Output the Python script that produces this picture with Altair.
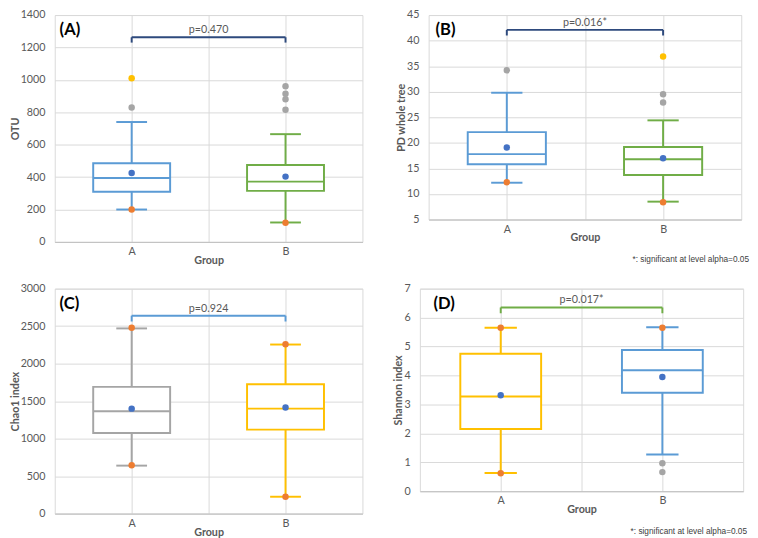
import altair as alt
import pandas as pd

groups = ["A", "B"]
group_pos = [1, 3]

# ---- Panel (A) OTU ----
otu_low = [200, 120]
otu_q1 = [310, 315]
otu_med = [395, 372]
otu_q3 = [485, 475]
otu_high = [740, 665]
otu_pt_group = ["A", "A", "A", "A", "B", "B", "B", "B", "B", "B"]
otu_pt_value = [425, 200, 830, 1010, 403, 118, 815, 880, 915, 960]
otu_pt_kind = ["mean", "min", "outlier", "max", "mean", "min", "outlier", "outlier", "outlier", "outlier"]

# ---- Panel (B) PD whole tree ----
pd_low = [12.2, 8.5]
pd_q1 = [15.8, 13.7]
pd_med = [17.8, 16.8]
pd_q3 = [22.1, 19.2]
pd_high = [29.8, 24.4]
pd_pt_group = ["A", "A", "A", "B", "B", "B", "B", "B"]
pd_pt_value = [19.1, 12.3, 34.2, 17.0, 8.4, 27.9, 29.5, 36.9]
pd_pt_kind = ["mean", "min", "outlier", "mean", "min", "outlier", "outlier", "max"]

# ---- Panel (C) Chao1 ----
chao_low = [640, 225]
chao_q1 = [1075, 1120]
chao_med = [1365, 1400]
chao_q3 = [1690, 1725]
chao_high = [2470, 2255]
chao_pt_group = ["A", "A", "A", "B", "B", "B"]
chao_pt_value = [1400, 645, 2480, 1415, 225, 2260]
chao_pt_kind = ["mean", "min", "min", "mean", "min", "min"]

# ---- Panel (D) Shannon ----
sh_low = [0.63, 1.27]
sh_q1 = [2.15, 3.40]
sh_med = [3.27, 4.18]
sh_q3 = [4.75, 4.88]
sh_high = [5.65, 5.67]
sh_pt_group = ["A", "A", "A", "B", "B", "B", "B"]
sh_pt_value = [3.32, 0.62, 5.65, 3.95, 5.65, 0.97, 0.66]
sh_pt_kind = ["mean", "min", "min", "mean", "min", "outlier", "outlier"]

kind_colors = {"mean": "#4472C4", "min": "#ED7D31", "max": "#FFC000", "outlier": "#A5A5A5"}

FONT = "Lato"
LABEL_COLOR = "#595959"
GRID = "#D9D9D9"


def make_panel(letter, ytitle, ydomain, yvalues, low, q1, med, q3, high,
               pgroup, pvalue, pkind, box_colors, bracket_y, bracket_end, label_y,
               ptext, bracket_color, w, h, letter_dx, footnote_dx=None):
    pos = dict(zip(groups, group_pos))
    box_df = pd.DataFrame({"group": groups, "x": group_pos, "low": low, "q1": q1,
                           "med": med, "q3": q3, "high": high, "color": box_colors})
    pt_df = pd.DataFrame({"group": pgroup, "value": pvalue, "kind": pkind})
    pt_df["x"] = pt_df["group"].map(pos)
    pt_df["color"] = pt_df["kind"].map(kind_colors)

    label_expr = " : ".join(
        [f"datum.value == {p} ? '{g}'" for g, p in zip(groups, group_pos)]) + " : ''"
    xaxis = alt.Axis(values=[1, 2, 3], labelExpr=label_expr, grid=True, ticks=False,
                     domainColor="#BFBFBF", labelPadding=4, titlePadding=-2)
    yaxis = alt.Axis(values=yvalues, format="d", grid=True, ticks=False, domain=False,
                     labelPadding=10, titlePadding=0)
    xs = alt.Scale(domain=[0, 4], nice=False, zero=False)
    ys = alt.Scale(domain=ydomain, nice=False, zero=False)

    def X(f):
        return alt.X(f, type="quantitative", scale=xs, axis=xaxis, title="Group")

    def Y(f):
        return alt.Y(f, type="quantitative", scale=ys, axis=yaxis, title=ytitle)

    box_base = alt.Chart(box_df).transform_calculate(
        xl="datum.x - 0.5", xh="datum.x + 0.5", cl="datum.x - 0.2", ch="datum.x + 0.2")

    boxes = box_base.mark_rect(fill="white", strokeWidth=2).encode(
        x=X("xl"), x2="xh", y=Y("q1"), y2="q3",
        stroke=alt.Stroke("color:N", scale=None))
    medians = box_base.mark_rule(strokeWidth=2).encode(
        x=X("xl"), x2="xh", y=Y("med"), color=alt.Color("color:N", scale=None))
    wl = box_base.mark_rule(strokeWidth=2).encode(
        x=X("x"), y=Y("low"), y2="q1", color=alt.Color("color:N", scale=None))
    wh = box_base.mark_rule(strokeWidth=2).encode(
        x=X("x"), y=Y("q3"), y2="high", color=alt.Color("color:N", scale=None))
    cl = box_base.mark_rule(strokeWidth=2).encode(
        x=X("cl"), x2="ch", y=Y("low"), color=alt.Color("color:N", scale=None))
    chh = box_base.mark_rule(strokeWidth=2).encode(
        x=X("cl"), x2="ch", y=Y("high"), color=alt.Color("color:N", scale=None))

    points = alt.Chart(pt_df).mark_circle(size=44, opacity=1).encode(
        x=X("x"), y=Y("value"), color=alt.Color("color:N", scale=None))

    br_df = pd.DataFrame({"x1": [group_pos[0]], "x2": [group_pos[1]], "y": [bracket_y],
                          "yend": [bracket_end], "ly": [label_y], "t": [ptext]})
    br_h = alt.Chart(br_df).mark_rule(strokeWidth=2, color=bracket_color).encode(
        x=X("x1"), x2="x2", y=Y("y"))
    br_l = alt.Chart(br_df).mark_rule(strokeWidth=2, color=bracket_color).encode(
        x=X("x1"), y=Y("y"), y2="yend")
    br_r = alt.Chart(br_df).mark_rule(strokeWidth=2, color=bracket_color).encode(
        x=X("x2"), y=Y("y"), y2="yend")
    br_t = alt.Chart(br_df).transform_calculate(xm="(datum.x1 + datum.x2) / 2").mark_text(
        font=FONT, fontSize=11, color=LABEL_COLOR, baseline="middle").encode(
        x=X("xm"), y=Y("ly"), text="t:N")

    let_df = pd.DataFrame({"t": [letter]})
    let_t = alt.Chart(let_df).mark_text(
        font=FONT, fontSize=17, fontWeight="bold", color="black", align="left",
        baseline="middle").encode(x=alt.value(letter_dx), y=alt.value(16), text="t:N")

    layers = [boxes, medians, wl, wh, cl, chh, br_h, br_l, br_r, br_t, points, let_t]
    if footnote_dx is not None:
        fn_df = pd.DataFrame({"t": ["*: significant at level alpha=0.05"]})
        fn = alt.Chart(fn_df).mark_text(
            font="Liberation Sans", fontSize=8.5, color="#404040", align="right",
            baseline="middle").encode(x=alt.value(w + footnote_dx), y=alt.value(h + 41),
                                      text="t:N")
        layers.append(fn)
    return alt.layer(*layers).properties(width=w, height=h)


pA = make_panel("(A)", "OTU", [0, 1400], list(range(0, 1401, 200)),
                otu_low, otu_q1, otu_med, otu_q3, otu_high,
                otu_pt_group, otu_pt_value, otu_pt_kind, ["#5B9BD5", "#70AD47"],
                1263, 1230, 1306, "p=0.470", "#2E4A7D", 316, 233, 5)
pB = make_panel("(B)", "PD whole tree", [5, 45], list(range(5, 46, 5)),
                pd_low, pd_q1, pd_med, pd_q3, pd_high,
                pd_pt_group, pd_pt_value, pd_pt_kind, ["#5B9BD5", "#70AD47"],
                42.1, 41.0, 43.4, "p=0.016*", "#2E4A7D", 321, 210, 7, footnote_dx=8)
pC = make_panel("(C)", "Chao1 index", [0, 3000], list(range(0, 3001, 500)),
                chao_low, chao_q1, chao_med, chao_q3, chao_high,
                chao_pt_group, chao_pt_value, chao_pt_kind, ["#A5A5A5", "#FFC000"],
                2640, 2562, 2727, "p=0.924", "#5B9BD5", 316, 231, 5)
pD = make_panel("(D)", "Shannon index", [0, 7], list(range(0, 8)),
                sh_low, sh_q1, sh_med, sh_q3, sh_high,
                sh_pt_group, sh_pt_value, sh_pt_kind, ["#FFC000", "#5B9BD5"],
                6.35, 6.15, 6.6, "p=0.017*", "#70AD47", 332, 208, 14, footnote_dx=4)

row1 = alt.hconcat(pA, pB, spacing=32)
row2 = alt.hconcat(pC, pD, spacing=30)
chart = alt.vconcat(row1, row2, spacing=16).properties(
    padding={"top": -7, "left": 0, "right": 0, "bottom": 0}, background="white"
).configure_view(stroke=GRID, strokeWidth=1).configure_axis(
    gridColor=GRID, gridWidth=1, labelFont=FONT, labelFontSize=11, labelColor=LABEL_COLOR,
    titleFont=FONT, titleFontSize=11, titleFontWeight="bold", titleColor=LABEL_COLOR,
    domainColor=GRID
)

chart.save("out.html", embed_options={"renderer": "svg", "actions": False})
